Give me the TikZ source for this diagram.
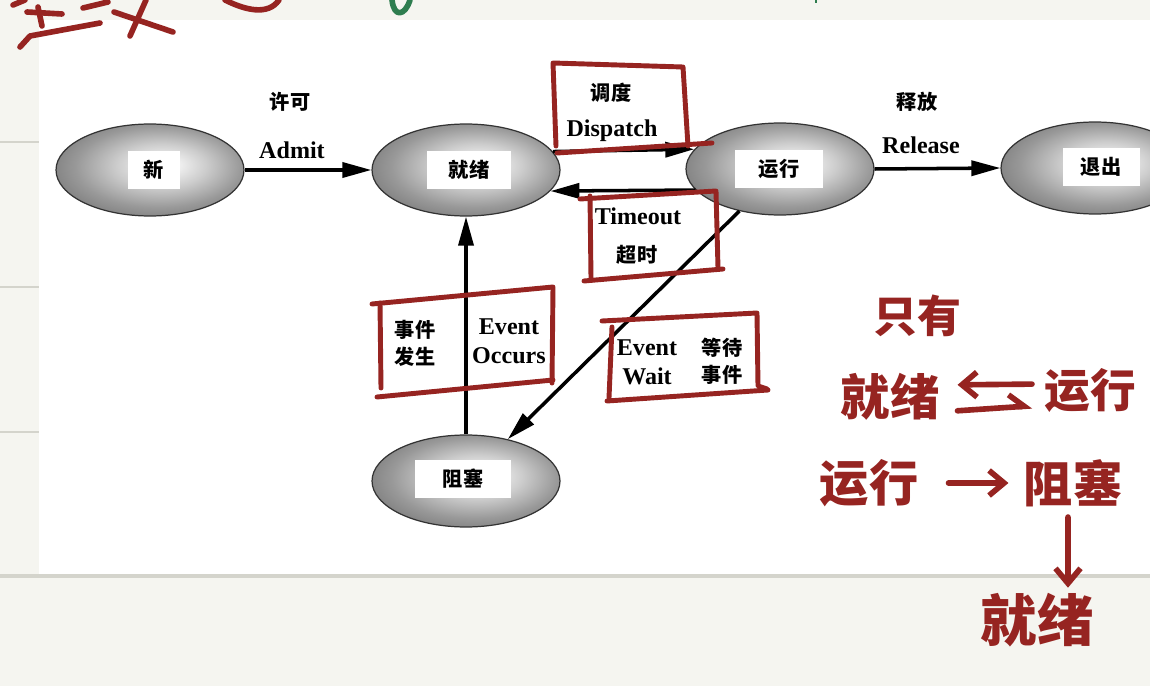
\documentclass[tikz,border=0pt]{standalone}
\usepackage{fontspec}
\setmainfont{Liberation Serif}
\newfontfamily\cjk{Noto Sans CJK SC}
\usetikzlibrary{arrows.meta, shapes.geometric}

\pgfdeclareradialshading{orb}{\pgfpoint{4bp}{3bp}}{%
  color(0bp)=(black!3); color(4bp)=(black!6); color(12bp)=(black!20);
  color(22bp)=(black!40); color(30bp)=(black!52); color(50bp)=(black!55)}

\begin{document}
\begin{tikzpicture}[
    x=0.02cm, y=-0.02cm,
    >={Triangle[length=0.58cm,width=0.3cm]},
]
% ── Colours ──
\definecolor{paper}{HTML}{F5F5F0}
\definecolor{rule}{HTML}{D4D4CC}
\definecolor{ink}{HTML}{962421}
\definecolor{inkgreen}{HTML}{2E7D4F}

% ── Styles ──
\tikzset{
    pstate/.style={
        ellipse, draw=black!80, line width=0.7pt,
        shade, shading=orb,
        minimum width=3.76cm, minimum height=1.84cm, inner sep=0pt,
    },
    tag/.style={
        fill=white, minimum height=0.76cm, inner sep=0pt,
        font=\cjk\bfseries\fontsize{11.5}{13}\selectfont,
    },
    lbl/.style={font=\bfseries\fontsize{13.7}{16.5}\selectfont, align=center, inner sep=0pt},
    zh/.style={font=\cjk\bfseries\fontsize{11.5}{15.5}\selectfont, align=center, inner sep=0pt},
    trans/.style={->, line width=2pt},
    redbox/.style={draw=ink, line width=2.8pt, line cap=round, line join=round},
    hand/.style={text=ink, inner sep=0pt, font=\cjk\bfseries\fontsize{28}{30}\selectfont},
    stroke/.style={draw=ink, line width=3.2pt, line cap=round, line join=round},
    hwarrow/.style={stroke, -{Straight Barb[length=0.3cm,width=0.5cm]}},
}

\useasboundingbox (0,0) rectangle (1150,686);
\clip (0,0) rectangle (1150,686);

% ── Page ──
\fill[paper] (0,0) rectangle (1150,686);
\fill[white] (39,20) rectangle (1150,574);
\draw[rule, line width=0.09cm] (0,576) -- (1150,576);
\foreach \y in {142,287,432}
    \draw[rule, line width=0.05cm] (0,\y) -- (39,\y);

% ── Process states ──
\node[pstate] (new) at (150,170) {};
\node[pstate] (ready) at (466,170) {};
\node[pstate] (running) at (780,169) {};
\node[pstate] (exit) at (1095,168) {};
\node[pstate] (blocked) at (466,481) {};

\node[tag, minimum width=1.04cm] (newtag) at (154,170) {新};
\node[tag, minimum width=1.7cm] (readytag) at (469,170) {就绪};
\node[tag, minimum width=1.76cm] (runtag) at (779,169) {运行};
\node[tag, minimum width=1.54cm] (exittag) at (1101,167) {退出};
\node[tag, minimum width=1.94cm] (blocktag) at (463,479) {阻塞};

% ── Transitions ──
\draw[trans] (new.east) -- (ready.west);
\draw[trans] (ready.12.5) -- (running.167.5);
\draw[trans] (running.194) -- (ready.-14);
\draw[trans] (running.east) -- (exit.west);
\draw[trans] (running.226) -- (blocked.45);
\draw[trans] (blocked.north) -- (ready.south);

% ── Transition labels ──
\node[zh] (admitzh) at (290,102) {许可};
\node[lbl] (admit) at (292,150) {Admit};
\node[zh] (dispzh) at (611,93) {调度};
\node[lbl] (disp) at (612,131) {Dispatch};
\node[lbl] (tout) at (638,216) {Timeout};
\node[zh] (toutzh) at (637,255) {超时};
\node[zh] (relzh) at (917,102) {释放};
\node[lbl] (rel) at (921,145) {Release};
\node[zh] (occzh) at (415,343) {事件\\发生};
\node[lbl] (occ) at (509,341) {Event\\Occurs};
\node[lbl] (wait) at (647,362) {Event\\Wait};
\node[zh] (waitzh) at (722,361) {等待\\事件};

% ── Red pen boxes ──
\draw[redbox] (556,146) -- (553,63) -- (683,67) -- (688,146);
\draw[redbox] (557,153) -- (712,143);
\draw[redbox] (580,199) -- (716,191) -- (718,268);
\draw[redbox] (590,196) -- (591,278);
\draw[redbox] (584,281) -- (723,269);
\draw[redbox] (372,304) -- (553,287) -- (552,383);
\draw[redbox] (380,303) -- (381,388);
\draw[redbox] (377,397) -- (553,380);
\draw[redbox] (602,321) -- (757,313) -- (758,386) -- (767,389);
\draw[redbox] (612,327) -- (609,398);
\draw[redbox] (607,401) -- (768,390);

% ── Handwritten notes ──
\node[hand, font=\cjk\bfseries\fontsize{25}{27}\selectfont] (hwonly) at (917,316) {只有};
\node[hand] (hwready) at (890,397) {就绪};
\node[hand, font=\cjk\bfseries\fontsize{26}{28}\selectfont] (hwrun) at (1090,390) {运行};
\node[hand] (hwrun2) at (869,483) {运行};
\node[hand] (hwblock) at (1073,483) {阻塞};
\node[hand, font=\cjk\bfseries\fontsize{32}{34}\selectfont] (hwready2) at (1037,620) {就绪};

\draw[hwarrow, shorten <=0.24cm, shorten >=0.36cm]
    ([yshift=0.12cm]hwrun.west) -- ([yshift=0.24cm]hwready.east);
\draw[stroke, -{Straight Barb[left,length=0.3cm,width=0.5cm]}, shorten <=0.36cm, shorten >=0.24cm]
    ([yshift=-0.3cm]hwready.east) -- ([yshift=-0.3cm]hwrun.west);
\draw[hwarrow, shorten <=0.6cm, shorten >=0.3cm] (hwrun2.east) -- (hwblock.west);
\draw[hwarrow, shorten <=0.2cm, shorten >=0.1cm]
    ([xshift=-0.1cm]hwblock.south) -- ([xshift=0.62cm]hwready2.north);

% top edge scribbles
\draw[stroke] (13,5) -- (25,0);
\draw[stroke] (27,12) -- (62,14);
\draw[stroke] (38,7) -- (42,26);
\draw[stroke] (20,47) -- (30,36) -- (100,23);
\draw[stroke] (83,8) -- (108,2);
\draw[stroke] (146,0) -- (130,36);
\draw[stroke] (114,12) -- (173,32);
\draw[stroke] (225,0) .. controls (245,10) and (268,16) .. (279,0);
\draw[stroke, draw=inkgreen] (392,0) .. controls (394,18) and (405,16) .. (410,0);
\draw[draw=inkgreen, line width=1pt] (816,0) -- (816,3);
\end{tikzpicture}
\end{document}
